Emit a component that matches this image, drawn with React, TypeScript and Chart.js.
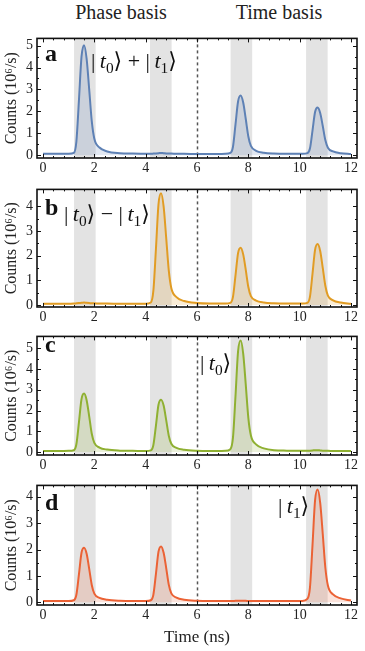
import React, { useEffect, useRef } from "react";
import { Chart, registerables } from "chart.js";
Chart.register(...registerables);

const FONT = '"Liberation Serif", "DejaVu Serif", serif';

const timeNs = [0, 0.5, 1.0, 1.2, 1.3, 1.4, 1.5, 1.6, 1.7, 1.8, 1.9, 2.0, 2.2, 2.5, 3.0, 3.5, 4.0, 4.2, 4.3, 4.4, 4.5, 4.6, 4.7, 4.8, 4.9, 5.0, 5.2, 5.5, 6.0, 6.5, 7.1, 7.3, 7.4, 7.5, 7.6, 7.7, 7.8, 7.9, 8.0, 8.1, 8.3, 8.6, 9.0, 9.5, 10.1, 10.3, 10.4, 10.5, 10.6, 10.7, 10.8, 10.9, 11.0, 11.1, 11.3, 11.6, 12.0];

const countsA = [0.06, 0.06, 0.06, 0.1, 0.62, 2.5, 4.5, 5.02, 4.4, 3.0, 1.55, 0.75, 0.35, 0.17, 0.09, 0.07, 0.06, 0.06, 0.07, 0.08, 0.09, 0.1, 0.09, 0.08, 0.07, 0.07, 0.06, 0.06, 0.05, 0.05, 0.06, 0.1, 0.37, 1.4, 2.45, 2.72, 2.4, 1.65, 0.85, 0.42, 0.2, 0.11, 0.07, 0.06, 0.06, 0.09, 0.3, 1.12, 1.97, 2.17, 1.92, 1.33, 0.69, 0.34, 0.17, 0.09, 0.05];
const countsB = [0.05, 0.05, 0.05, 0.06, 0.07, 0.08, 0.09, 0.1, 0.09, 0.08, 0.07, 0.07, 0.06, 0.06, 0.05, 0.05, 0.05, 0.1, 0.58, 2.27, 4.08, 4.52, 3.98, 2.72, 1.4, 0.68, 0.32, 0.16, 0.08, 0.06, 0.06, 0.09, 0.32, 1.2, 2.1, 2.32, 2.05, 1.42, 0.73, 0.36, 0.18, 0.1, 0.07, 0.06, 0.06, 0.09, 0.33, 1.26, 2.23, 2.47, 2.19, 1.5, 0.78, 0.38, 0.19, 0.1, 0.05];
const countsC = [0.05, 0.05, 0.06, 0.09, 0.38, 1.43, 2.55, 2.82, 2.5, 1.72, 0.88, 0.44, 0.22, 0.12, 0.07, 0.06, 0.05, 0.08, 0.34, 1.28, 2.28, 2.52, 2.24, 1.54, 0.79, 0.4, 0.2, 0.11, 0.06, 0.05, 0.06, 0.14, 0.68, 2.7, 4.85, 5.37, 4.74, 3.25, 1.65, 0.8, 0.37, 0.18, 0.09, 0.07, 0.06, 0.06, 0.07, 0.08, 0.09, 0.09, 0.08, 0.07, 0.07, 0.06, 0.05, 0.05, 0.05];
const countsD = [0.05, 0.05, 0.05, 0.08, 0.29, 1.06, 1.88, 2.07, 1.84, 1.27, 0.66, 0.33, 0.17, 0.1, 0.06, 0.05, 0.05, 0.08, 0.29, 1.08, 1.92, 2.12, 1.88, 1.3, 0.67, 0.34, 0.18, 0.1, 0.06, 0.05, 0.05, 0.05, 0.05, 0.06, 0.06, 0.06, 0.06, 0.06, 0.05, 0.05, 0.05, 0.05, 0.05, 0.05, 0.05, 0.13, 0.55, 2.16, 3.86, 4.27, 3.77, 2.59, 1.32, 0.64, 0.3, 0.15, 0.07];

const xTicks = [0, 2, 4, 6, 8, 10, 12];
const yTicks5 = [0, 1, 2, 3, 4, 5];
const yTicks4 = [0, 1, 2, 3, 4];
const bandStarts = [1.21, 4.17, 7.31, 10.25];
const bandEnds = [2.05, 5.01, 8.15, 11.09];
const dividerNs = 6;
const X_MIN = -0.234;
const X_MAX = 12.234;

type Seg = { t: string; italic?: boolean; sub?: boolean };
type Panel = {
  values: number[];
  color: string;
  fill: string;
  yMin: number;
  yMax: number;
  yTicks: number[];
  letter: string;
  letterDy: number;
  ket: Seg[];
  ketX: number;
  ketDy: number;
  canvasTop: number;
  frameH: number;
  last?: boolean;
};

const ket = (n: string): Seg[] => [
  { t: "|\u2009" },
  { t: "t", italic: true },
  { t: n, sub: true },
  { t: "\u27E9" },
];

const panels: Panel[] = [
  {
    values: countsA, color: "#5E81B5", fill: "rgba(94,129,181,0.18)",
    yMin: -0.13, yMax: 5.33, yTicks: yTicks5,
    letter: "a", letterDy: 23,
    ket: [...ket("0"), { t: " + " }, ...ket("1")], ketX: 91, ketDy: 30,
    canvasTop: 26, frameH: 128,
  },
  {
    values: countsB, color: "#E19C24", fill: "rgba(225,156,36,0.18)",
    yMin: -0.08, yMax: 4.68, yTicks: yTicks4,
    letter: "b", letterDy: 26,
    ket: [...ket("0"), { t: " \u2212 " }, ...ket("1")], ketX: 64, ketDy: 32,
    canvasTop: 177, frameH: 126,
  },
  {
    values: countsC, color: "#8FB032", fill: "rgba(143,176,50,0.18)",
    yMin: -0.14, yMax: 5.57, yTicks: yTicks5,
    letter: "c", letterDy: 16,
    ket: ket("0"), ketX: 200, ketDy: 34,
    canvasTop: 324, frameH: 127,
  },
  {
    values: countsD, color: "#EB6235", fill: "rgba(235,98,53,0.18)",
    yMin: -0.1, yMax: 4.43, yTicks: yTicks4,
    letter: "d", letterDy: 25,
    ket: ket("1"), ketX: 278, ketDy: 28,
    canvasTop: 473, frameH: 128, last: true,
  },
];

const PAD_TOP = 4;
const XAXIS_H = 18;
const XAXIS_H_LAST = 46;

function makePlugin(p: Panel) {
  return {
    id: "decor",
    beforeDatasetsDraw(chart: any) {
      const { ctx, chartArea: a, scales } = chart;
      const xs = scales.x;
      ctx.save();
      ctx.fillStyle = "#e3e3e3";
      for (let i = 0; i < bandStarts.length; i++) {
        const x0 = xs.getPixelForValue(bandStarts[i]);
        const x1 = xs.getPixelForValue(bandEnds[i]);
        ctx.fillRect(x0, a.top, x1 - x0, a.bottom - a.top);
      }
      const xd = Math.round(xs.getPixelForValue(dividerNs)) + 0.5;
      ctx.strokeStyle = "#555";
      ctx.lineWidth = 1.5;
      ctx.setLineDash([3, 3]);
      ctx.beginPath();
      ctx.moveTo(xd, a.top);
      ctx.lineTo(xd, a.bottom);
      ctx.stroke();
      ctx.restore();
    },
    afterDraw(chart: any) {
      const { ctx, chartArea: a, scales } = chart;
      const xs = scales.x;
      const ys = scales.y;
      ctx.save();
      ctx.strokeStyle = "#111";
      ctx.lineWidth = 1;
      ctx.beginPath();
      for (let v = 0; v <= 12.001; v += 0.4) {
        const major = Math.abs(v / 2 - Math.round(v / 2)) < 0.01;
        const len = major ? 4 : 2;
        const x = Math.round(xs.getPixelForValue(v)) + 0.5;
        ctx.moveTo(x, a.bottom);
        ctx.lineTo(x, a.bottom - len);
        ctx.moveTo(x, a.top);
        ctx.lineTo(x, a.top + len);
      }
      const yTop = p.yTicks[p.yTicks.length - 1];
      for (let v = 0; v <= yTop + 0.001; v += 0.5) {
        const major = Math.abs(v - Math.round(v)) < 0.01;
        const len = major ? 4 : 2;
        const y = Math.round(ys.getPixelForValue(v)) + 0.5;
        ctx.moveTo(a.left, y);
        ctx.lineTo(a.left + len, y);
        ctx.moveTo(a.right, y);
        ctx.lineTo(a.right - len, y);
      }
      ctx.stroke();
      ctx.lineWidth = 1.6;
      ctx.strokeRect(a.left, a.top, a.right - a.left, a.bottom - a.top);

      // panel letter
      ctx.fillStyle = "#111";
      ctx.textBaseline = "alphabetic";
      ctx.textAlign = "left";
      ctx.font = `bold 24px ${FONT}`;
      ctx.fillText(p.letter, a.left + 8, a.top + p.letterDy);

      // ket label
      const size = 22;
      let x = p.ketX;
      const base = a.top + p.ketDy;
      for (const s of p.ket) {
        const fs = s.sub ? size * 0.7 : size;
        ctx.font = `${s.italic ? "italic " : ""}${fs}px ${FONT}`;
        ctx.fillText(s.t, x, base + (s.sub ? size * 0.22 : 0));
        x += ctx.measureText(s.t).width;
      }
      ctx.restore();
    },
  };
}

function PanelChart({ p }: { p: Panel }) {
  const ref = useRef<HTMLCanvasElement | null>(null);
  const xh = p.last ? XAXIS_H_LAST : XAXIS_H;
  const height = PAD_TOP + p.frameH + xh;
  useEffect(() => {
    if (!ref.current) return;
    const chart = new Chart(ref.current, {
      type: "line",
      data: {
        datasets: [
          {
            data: timeNs.map((t, i) => ({ x: t, y: p.values[i] })),
            borderColor: p.color,
            backgroundColor: p.fill,
            borderWidth: 2,
            fill: "origin",
            pointRadius: 0,
            cubicInterpolationMode: "monotone",
          },
        ],
      },
      options: {
        responsive: false,
        animation: false,
        layout: { padding: { top: PAD_TOP, right: 8, bottom: 0, left: 0 } },
        plugins: { legend: { display: false }, tooltip: { enabled: false } },
        scales: {
          x: {
            type: "linear",
            min: X_MIN,
            max: X_MAX,
            grid: { display: false, drawTicks: false },
            border: { display: false },
            afterBuildTicks: (s: any) => {
              s.ticks = xTicks.map((v) => ({ value: v }));
            },
            afterFit: (s: any) => {
              s.height = xh;
            },
            ticks: {
              padding: 2,
              autoSkip: false,
              maxRotation: 0,
              color: "#222",
              font: { family: FONT, size: 14 },
              callback: (v: any) => String(v),
            },
            title: p.last
              ? {
                  display: true,
                  text: "Time (ns)",
                  color: "#222",
                  font: { family: FONT, size: 17 },
                  padding: { top: 0, bottom: 3 },
                }
              : { display: false },
          },
          y: {
            type: "linear",
            min: p.yMin,
            max: p.yMax,
            grid: { display: false, drawTicks: false },
            border: { display: false },
            afterBuildTicks: (s: any) => {
              s.ticks = p.yTicks.map((v) => ({ value: v }));
            },
            afterFit: (s: any) => {
              s.width = 37;
            },
            ticks: {
              padding: 4,
              color: "#222",
              font: { family: FONT, size: 14 },
              callback: (v: any) => String(v),
            },
            title: {
              display: true,
              text: "Counts (10\u2076/s)",
              color: "#222",
              font: { family: FONT, size: 16 },
              padding: { top: 2, bottom: 0 },
            },
          },
        },
      },
      plugins: [makePlugin(p)],
    } as any);
    return () => chart.destroy();
  }, []);
  return (
    <canvas
      ref={ref}
      width={365}
      height={height}
      style={{ position: "absolute", left: 0, top: p.canvasTop, width: 365, height }}
    />
  );
}

export default function App() {
  const head: React.CSSProperties = {
    position: "absolute",
    top: 0,
    fontFamily: FONT,
    fontSize: 20,
    lineHeight: "24px",
    color: "#222",
    transform: "translateX(-50%)",
    whiteSpace: "nowrap",
  };
  return (
    <div style={{ position: "absolute", left: 0, top: 0, width: 365, height: 651, background: "#fff", overflow: "hidden" }}>
      <div style={{ ...head, left: 121 }}>Phase basis</div>
      <div style={{ ...head, left: 279 }}>Time basis</div>
      {panels.map((p, i) => (
        <PanelChart key={i} p={p} />
      ))}
    </div>
  );
}
